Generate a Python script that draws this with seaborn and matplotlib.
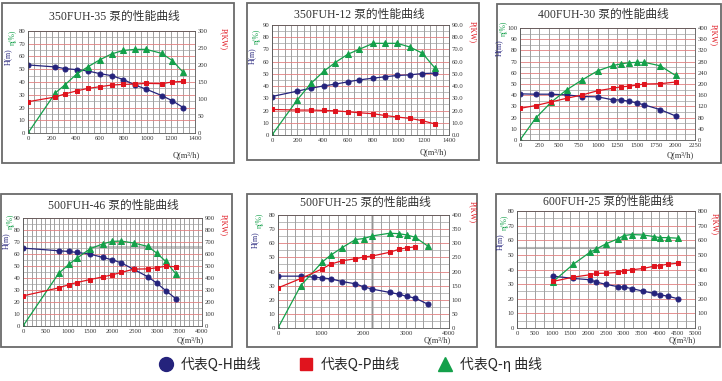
import seaborn as sns
import matplotlib.pyplot as plt
from matplotlib.patches import Rectangle
from matplotlib.lines import Line2D
from matplotlib.ticker import MultipleLocator, FormatStrFormatter

# ---- data (Q in m3/h, H in m, P in kW, eta in %) ----
# 350FUH-35
q1 = [0, 230, 310, 410, 500, 600, 700, 800, 900, 990, 1120, 1210, 1300]
h1 = [53.4, 51.8, 50.5, 49.7, 48.7, 46.6, 45.0, 41.9, 37.5, 34.4, 29.4, 25.3, 20.0]
p1 = [92, 106, 115, 124, 131, 136, 141, 143, 144, 146, 145, 150, 152]
e1 = [0, 31.5, 37.8, 46.4, 51.8, 57.3, 62.0, 64.8, 65.6, 65.6, 62.5, 56.8, 47.7]

# 350FUH-12
q2 = [0, 200, 310, 410, 500, 600, 690, 800, 890, 990, 1090, 1190, 1290]
h2 = [31.5, 35.9, 38.3, 40.2, 41.6, 43.5, 45.1, 46.5, 47.6, 48.7, 49.2, 50.3, 50.6]
p2 = [20.9, 20.4, 20.4, 20.1, 19.8, 19.0, 18.2, 17.4, 16.0, 14.7, 13.6, 11.7, 9.0]
e2 = [0, 28.8, 42.4, 52.2, 59.3, 66.1, 70.1, 75.0, 75.0, 75.0, 72.0, 66.9, 54.6]

# 400FUH-30
q3 = [0, 200, 400, 600, 800, 1000, 1200, 1300, 1400, 1500, 1600, 1800, 2000]
h3 = [41.2, 40.9, 40.9, 40.3, 38.8, 38.5, 35.8, 35.8, 34.6, 33.1, 31.3, 27.2, 21.5]
p3 = [113, 123, 136, 149, 161, 176, 185, 190, 192, 196, 200, 201, 207]
e3 = [0, 19.4, 33.7, 44.8, 53.7, 61.8, 66.6, 68.0, 69.0, 69.3, 69.3, 66.3, 57.6]

# 500FUH-46
q4 = [0, 800, 1030, 1200, 1500, 1790, 1990, 2190, 2480, 2790, 2990, 3190, 3420]
h4 = [64.9, 62.7, 62.1, 61.3, 59.9, 57.1, 55.2, 52.7, 47.1, 41.0, 35.7, 29.5, 22.6]
p4 = [251, 318, 345, 362, 387, 410, 426, 446, 474, 476, 485, 499, 493]
e4 = [0, 44.0, 51.5, 56.3, 64.4, 68.5, 70.5, 70.8, 69.1, 66.3, 60.7, 53.8, 43.2]

# 500FUH-25
qh5 = [0, 530, 850, 1030, 1230, 1500, 1810, 2000, 2210, 2610, 2820, 3010, 3210, 3500]
h5 = [36.7, 36.7, 36.0, 35.5, 34.8, 32.9, 31.3, 29.2, 27.5, 25.2, 24.0, 22.4, 21.2, 16.9]
qp5 = [0, 530, 1030, 1230, 1500, 1810, 2000, 2210, 2610, 2820, 3010, 3210]
p5 = [142, 175, 209, 226, 238, 245, 251, 255, 268, 278, 284, 287]
qe5 = [0, 530, 1030, 1230, 1500, 1810, 2000, 2210, 2610, 2820, 3010, 3210, 3500]
e5 = [0, 29.9, 46.6, 51.5, 56.9, 62.6, 63.3, 65.2, 67.1, 66.8, 65.9, 64.2, 58.1]

# 600FUH-25
q6 = [1000, 1580, 2050, 2220, 2510, 2850, 3000, 3220, 3540, 3860, 4010, 4230, 4520]
h6 = [35.5, 33.9, 33.0, 31.4, 29.8, 28.2, 28.0, 27.0, 25.2, 23.6, 22.7, 21.8, 20.0]
p6 = [318, 348, 364, 373, 375, 380, 391, 398, 407, 423, 427, 436, 443]
e6 = [31.4, 43.6, 51.8, 53.9, 57.7, 61.1, 63.2, 63.9, 63.6, 62.5, 61.8, 61.8, 61.4]

titles = ["350FUH-35 泵的性能曲线", "350FUH-12 泵的性能曲线", "400FUH-30 泵的性能曲线",
          "500FUH-46 泵的性能曲线", "500FUH-25 泵的性能曲线", "600FUH-25 泵的性能曲线"]
legend_labels = ["代表Q-H曲线", "代表Q-P曲线", "代表Q-η 曲线"]

# ---- style ----
sns.set_style("white")
plt.rcParams['font.family'] = ['Liberation Serif', 'Noto Sans CJK SC']

W, H = 722, 381
C_H = '#25237c'
C_P = '#e0141e'
C_E = '#14a04a'
TXT = '#333333'

fig = plt.figure(figsize=(W / 100, H / 100), dpi=100)
fig.patch.set_facecolor('white')


def fx(x):
    return x / W


def fy(y):
    return 1 - y / H


def panel(frame, area, title, title_xy, xlim, xmaj, xmin, ylim, ymaj,
          rlim, rmaj, rfmt, qh, hv, qp, pv, qe, ev, hlab, plab, qlab):
    # outer frame
    x0, y0, x1, y1 = frame
    fig.add_artist(Rectangle((fx(x0), fy(y1)), fx(x1 - x0), (y1 - y0) / H,
                             transform=fig.transFigure, fill=False,
                             ec='#6a6a6a', lw=1.3))
    l, t, r, b = area
    ax = fig.add_axes([fx(l), fy(b), fx(r - l), (b - t) / H])
    ax.set_xlim(*xlim)
    ax.set_ylim(*ylim)
    ax.xaxis.set_major_locator(MultipleLocator(xmaj))
    ax.xaxis.set_minor_locator(MultipleLocator(xmin))
    ax.yaxis.set_major_locator(MultipleLocator(ymaj))
    ax.yaxis.set_minor_locator(MultipleLocator(ymaj / 2))
    ax.grid(which='both', axis='x', color='#7c7c7c', lw=0.5)
    ax.grid(which='major', axis='y', color='#e08080', lw=0.6)
    ax.grid(which='minor', axis='y', color='#a0a0a0', lw=0.5)
    ax.set_axisbelow(True)
    ax.tick_params(which='both', labelsize=4.8, length=0, pad=2, colors=TXT)
    for s in ax.spines.values():
        s.set_color('#555555')
        s.set_linewidth(0.6)

    sns.lineplot(x=qh, y=hv, ax=ax, color=C_H, lw=0.9, marker='o',
                 markersize=3.6, markeredgecolor=C_H, errorbar=None)
    sns.lineplot(x=qe, y=ev, ax=ax, color=C_E, lw=0.9, marker='^',
                 markersize=4.2, markeredgecolor=C_E, errorbar=None)
    ax.set_xlabel('')
    ax.set_ylabel('')

    ax2 = ax.twinx()
    ax2.set_ylim(*rlim)
    ax2.yaxis.set_major_locator(MultipleLocator(rmaj))
    ax2.yaxis.set_major_formatter(rfmt)
    ax2.grid(False)
    ax2.tick_params(labelsize=4.8, length=0, pad=2, colors=TXT)
    for s in ax2.spines.values():
        s.set_visible(False)
    sns.lineplot(x=qp, y=pv, ax=ax2, color=C_P, lw=0.9, marker='s',
                 markersize=3.0, markeredgecolor=C_P, errorbar=None)
    ax2.set_ylabel('')

    fig.text(fx(title_xy[0]), fy(title_xy[1]), title, ha='center', va='center',
             fontsize=8.5, color=TXT)
    fig.text(fx(hlab[0]), fy(hlab[1]), 'H(m)', rotation=90, ha='center',
             va='center', fontsize=5.5, color=C_H)
    fig.text(fx(hlab[0] + 5), fy(hlab[1] - 20), 'η(%)', rotation=90, ha='center',
             va='center', fontsize=5.5, color=C_E)
    fig.text(fx(plab[0]), fy(plab[1]), 'P(KW)', rotation=270, ha='center',
             va='center', fontsize=5.5, color=C_P)
    fig.text(fx(qlab[0]), fy(qlab[1]), 'Q(m³/h)', ha='center', va='center',
             fontsize=6, color=TXT)
    return ax


intf = FormatStrFormatter('%d')
flt = FormatStrFormatter('%.1f')

panel((2, 3, 234, 163), (28, 31, 195, 133), titles[0], (114, 17),
      (0, 1400), 200, 50, (0, 80), 10, (0, 300), 50, intf,
      q1, h1, q1, p1, q1, e1, (8, 57), (224, 39), (186, 155))

panel((247, 3, 479, 160), (272, 25, 449, 135), titles[1], (359, 15),
      (0, 1400), 200, 50, (0, 90), 10, (0, 90), 10, flt,
      q2, h2, q2, p2, q2, e2, (252, 56), (473, 32), (433, 152))

panel((497, 4, 721, 163), (520, 28, 695, 140), titles[2], (603, 15),
      (0, 2250), 250, 125, (0, 100), 10, (0, 400), 40, intf,
      q3, h3, q3, p3, q3, e3, (499, 48), (714, 35), (680, 155))

ax4 = panel((1, 194, 232, 347), (23, 218, 202, 326), titles[3], (113, 206),
            (0, 4000), 500, 100, (0, 90), 10, (0, 900), 100,
            FormatStrFormatter('%d'),
            q4, h4, q4, p4, q4, e4, (6, 241), (224, 225), (190, 340))
ax4.axhline(66, xmin=0.375, color='#b8b8b8', lw=1.2, zorder=0.5)

ax5 = panel((247, 194, 477, 347), (278, 215, 449, 328), titles[4], (365, 203),
            (0, 4000), 1000, 200, (0, 80), 10, (0, 400), 50, intf,
            qh5, h5, qp5, p5, qe5, e5, (255, 240), (473, 212), (437, 340))
ax5.axvline(2210, color='#c8c8c8', lw=2.0, zorder=0.5)

ax6 = panel((496, 194, 720, 347), (517, 211, 695, 328), titles[5], (608, 202),
            (0, 5000), 500, 250, (0, 80), 10, (0, 800), 100, intf,
            q6, h6, q6, p6, q6, e6, (500, 242), (715, 224), (682, 340))
ax6.axhline(55, color='#b8b8b8', lw=1.5, zorder=0.5)

# bottom legend
handles = [Line2D([], [], ls='', marker='o', color=C_H, markersize=10),
           Line2D([], [], ls='', marker='s', color=C_P, markersize=8),
           Line2D([], [], ls='', marker='^', color=C_E, markersize=10)]
fig.legend(handles, legend_labels, loc='center', bbox_to_anchor=(fx(347), fy(364)),
           ncol=3, frameon=False, handletextpad=0.1, columnspacing=2.2,
           prop={'family': ['Noto Sans CJK SC', 'DejaVu Sans'], 'size': 10})

fig.savefig('out.png', dpi=100, facecolor='white')
